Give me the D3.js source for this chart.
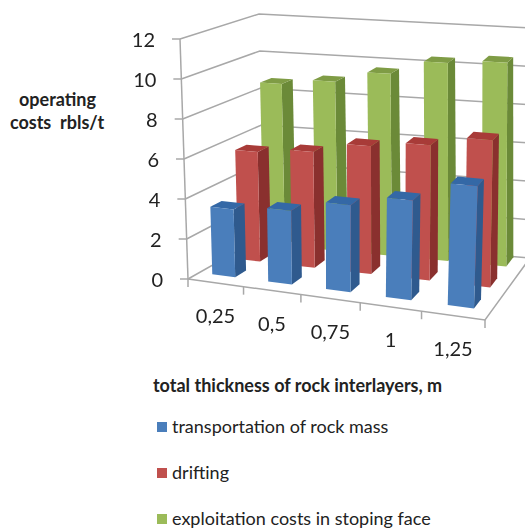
<!DOCTYPE html>
<html>
<head>
<meta charset="utf-8">
<script src="https://cdnjs.cloudflare.com/ajax/libs/d3/7.8.5/d3.min.js"></script>
<style>
  html, body { margin: 0; padding: 0; background: #fff; }
  svg { display: block; }
  text { font-family: Lato, "Open Sans", sans-serif; fill: #222; }
</style>
</head>
<body>
<script>
const categories = ['0,25', '0,5', '0,75', '1', '1,25'];
const seriesNames = ['transportation of rock mass', 'drifting', 'exploitation costs in stoping face'];
const transportation = [3.4, 3.65, 4.25, 4.8, 5.8];
const drifting = [5.65, 5.9, 6.45, 6.75, 7.25];
const exploitation = [8.6, 8.9, 9.5, 10.25, 10.45];
const yTicks = [0, 2, 4, 6, 8, 10, 12];

const seriesValues = [transportation, drifting, exploitation];
const colors = [
    { front: '#4a7ebb', side: '#2f5a8e', top: '#3468a6' },
    { front: '#c0504d', side: '#8a302e', top: '#a83b38' },
    { front: '#9bbb59', side: '#6b8a38', top: '#7f9c45' }
];

const width = 525, height = 529;

const svg = d3.select('body').append('svg')
    .attr('width', width)
    .attr('height', height);

const x = d3.scaleBand().domain(categories).range([0, 1]).paddingInner(0.586).paddingOuter(0.256).align(0.459);
const z = d3.scaleBand().domain(d3.range(3)).range([0, 1]).paddingInner(0.565).paddingOuter(0.232).align(0.9375);
const y = d3.scaleLinear().domain([0, 12]).range([0, 1]);

// corners of the chart box on screen, [front/back][left/right][bottom/top]
const box = {
    flb: [188, 279], frb: [485, 320], blb: [264, 236], brb: [530, 258],
    flt: [180, 39], frt: [495, 62], blt: [259, 14], brt: [530, 28]
};

// right side sits nearer the camera, so the columns spread out a bit
const warp = u => u * 0.92 / (1 - 0.08 * u);

const project = (u0, v, w) => {
    const u = warp(u0);
    const mix = (a, b, t) => [a[0] + (b[0] - a[0]) * t, a[1] + (b[1] - a[1]) * t];
    const bottom = mix(mix(box.flb, box.frb, u), mix(box.blb, box.brb, u), w);
    const top = mix(mix(box.flt, box.frt, u), mix(box.blt, box.brt, u), w);
    return mix(bottom, top, v);
};

const line = d3.line();
const gridColor = '#a8a8a8';

const chart = svg.append('g').style('filter', 'blur(0.5px)');

const drawLine = (pts, w) => chart.append('path')
    .attr('d', line(pts))
    .attr('fill', 'none')
    .attr('stroke', gridColor)
    .attr('stroke-width', w || 1.5);

// walls
yTicks.forEach(t => {
    const v = y(t);
    drawLine([project(0, v, 0), project(0, v, 1), project(1, v, 1)]);
    const p = project(0, v, 0);
    drawLine([[p[0] - 8, p[1]], p]);
    chart.append('text')
        .attr('x', p[0] - 25)
        .attr('y', p[1] + 3)
        .attr('text-anchor', 'end')
        .attr('dominant-baseline', 'middle')
        .attr('font-size', 20)
        .text(t);
});

// floor edges and front axis
drawLine([project(0, 0, 0), project(0, 1, 0)]);
drawLine([project(0, 0, 0), project(1, 0, 0), project(1, 0, 1)]);

d3.range(categories.length + 1).forEach(i => {
    const p = project(i / categories.length, 0, 0);
    drawLine([p, [p[0], p[1] + 8]]);
});

categories.forEach((c, i) => {
    const p = project((i + 0.5) / categories.length, 0, 0);
    chart.append('text')
        .attr('x', p[0])
        .attr('y', p[1] + 35)
        .attr('text-anchor', 'middle')
        .attr('dominant-baseline', 'middle')
        .attr('font-size', 20)
        .text(c);
});

// bars, back row first
d3.range(2, -1, -1).forEach(s => {
    categories.forEach((c, i) => {
        const u0 = x(c), u1 = u0 + x.bandwidth();
        const w0 = z(s), w1 = w0 + z.bandwidth();
        const v = y(seriesValues[s][i]);
        const col = colors[s];
        const face = (pts, fill) => chart.append('path')
            .attr('d', line(pts) + 'Z')
            .attr('fill', fill);
        face([project(u1, 0, w0), project(u1, 0, w1), project(u1, v, w1), project(u1, v, w0)], col.side);
        face([project(u0, v, w0), project(u1, v, w0), project(u1, v, w1), project(u0, v, w1)], col.top);
        face([project(u0, 0, w0), project(u1, 0, w0), project(u1, v, w0), project(u0, v, w0)], col.front);
    });
});

svg.append('text').attr('x', 57.5).attr('y', 106).attr('text-anchor', 'middle')
    .attr('font-size', 18).attr('font-weight', 700).text('operating');
svg.append('text').attr('x', 57).attr('y', 129).attr('text-anchor', 'middle')
    .attr('font-size', 18).attr('font-weight', 700).style('white-space', 'pre').text('costs  rbls/t');
svg.append('text').attr('x', 153).attr('y', 392)
    .attr('font-size', 18).attr('font-weight', 700).text('total thickness of rock interlayers, m');

// legend
const legendY = d3.scalePoint().domain(seriesNames).range([427, 519]);
seriesNames.forEach((n, i) => {
    svg.append('rect')
        .attr('x', 157).attr('y', legendY(n) - 5)
        .attr('width', 10).attr('height', 10)
        .attr('fill', colors[i].front);
    svg.append('text')
        .attr('x', 172).attr('y', legendY(n) + 6)
        .attr('font-size', 18)
        .text(n);
});
</script>
</body>
</html>
